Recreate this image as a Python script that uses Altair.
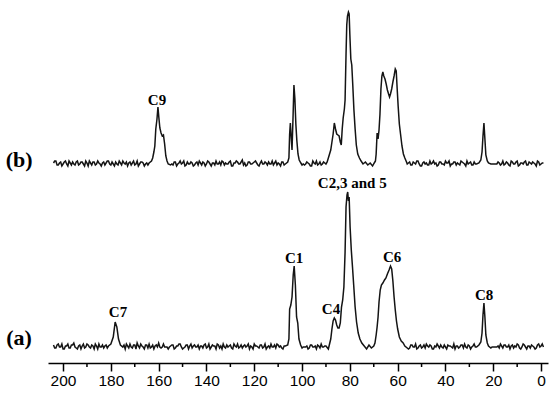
import altair as alt
import pandas as pd

# ---------------- data ----------------
ppm_grid = list(range(204, -2, -1))          # 206 whole-ppm positions
ppm_half = [p - 0.5 for p in range(204, -1, -1)]  # 205 half-ppm positions

noise_a = [2, -1, 3, 0, -2, 1, 3, -1, 2, 0,
           -2, 2, 1, -1, 3, 0, 2, -2, 1, 3,
           0, -1, 2, 1, -2, 0, 1, 2, 0, -1,
           -2, 1, 3, -1, 2, 4, -1, 1, -2, 2,
           3, 0, -2, 2, 4, -1, 3, 0, -2, 1,
           2, -1, 1, 3, -2, 0, 2, 1, -1, 2,
           0, -2, 1, 2, -1, 3, 0, 1, -2, 2,
           1, 3, -1, 0, 2, -2, 1, 3, 0, -1,
           2, 1, -2, 0, 3, 1, -1, 2, 0, -2,
           1, 3, 0, -1, 2, 1, -2, 0, 2, 1,
           0, 0, 0, 0, 0, 0, 1, -1, 2, 0,
           -2, 1, 3, 0, -1, 2, 0, 0, 0, 0,
           0, 0, 0, 0, 0, 0, 0, 0, 0, 0,
           0, 0, 0, 0, 0, 0, 0, 0, 0, 0,
           0, 0, 0, 0, 0, 0, 0, 0, 1, -1,
           2, 0, -2, 1, -1, 2, 3, 0, 1, -2,
           0, 1, 2, -1, 0, 2, 1, -1, -2, 1,
           0, 2, 3, -1, 1, 0, 3, 0, 0, 0,
           0, 0, 0, 0, 0, 0, 1, 3, -1, 2,
           0, -2, 2, 1, 3, -1, 0, 2, -2, 1,
           2, 0, -1, 3, 1, 0]

noise_a_half = [-1, 2, 0, 3, -2, 1, -1, 2, 4, -1,
                1, -2, 3, 0, 2, -1, 1, 3, -2, 0,
                2, 1, -1, 0, 2, 1, 0, -2, 1, 2,
                3, -1, 0, 2, -2, 1, 3, 0, 2, -1,
                -1, 2, 1, 0, 0, 0, 0, 0, 0, 2,
                -2, 1, 3, 0, -1, 2, -2, 3, 1, 0,
                2, 1, -1, 3, 0, -2, 2, 1, 3, -1,
                -2, 0, 2, 1, -1, 3, 0, -1, 2, 1,
                0, 3, 1, -2, 1, 0, 2, -1, 3, 0,
                -1, 0, 2, 3, 0, -1, 1, 2, -1, 0,
                0, 0, 0, 0, 0, 0, -2, 2, 0, 1,
                2, -1, 0, 1, 2, 0, 0, 0, 0, 0,
                0, 0, 0, 0, 0, 0, 0, 0, 0, 0,
                0, 0, 0, 0, 0, 0, 0, 0, 0, 0,
                0, 0, 0, 0, 0, 0, 0, 0, -2, 2,
                0, 3, -1, 2, 0, -1, 1, 2, -2, 1,
                3, -1, 0, 2, -2, 1, 0, 3, 1, -1,
                2, -1, 0, 2, -2, 1, 0, 0, 0, 0,
                0, 0, 0, 0, 0, 0, -1, 1, 2, 0,
                2, 1, -1, 0, 2, -2, 3, 0, 1, -1,
                1, -2, 2, 0, 3]

noise_b = [1, 3, -1, 2, 0, 3, -2, 1, 2, -1,
           3, 0, 2, -2, 1, 3, -1, 2, 0, 1,
           -2, 2, 1, 3, -1, 0, 2, -1, 1, 3,
           0, -2, 2, 1, -1, 3, 0, 2, -2, 1,
           2, 0, 1, -1, 0, 2, 1, 0, -1, 3,
           -1, 2, 0, 3, 1, -2, 2, 0, 1, -1,
           2, 3, -1, 1, 0, 2, -2, 1, 3, 0,
           -1, 2, 1, 0, 3, -2, 1, 2, 0, 4,
           1, -1, 2, 0, 2, 1, -2, 3, 0, 1,
           2, 0, -1, 3, 1, -2, 2, 0, 1, 0,
           0, 0, 0, 0, 1, -1, 2, 0, -2, 1,
           3, 0, -1, 2, 1, 0, 0, 0, 0, 0,
           0, 0, 0, 0, 0, 0, 0, 0, 0, 0,
           0, 0, 0, 0, 0, 0, 0, 0, 0, 0,
           0, 0, 0, 0, 0, 0, 0, 0, 0, 2,
           -1, 1, 3, 0, -2, 2, 1, -1, 0, 3,
           1, -1, 2, 0, 3, 1, -2, 0, 2, 1,
           -1, 2, 0, 3, 1, -1, 2, 0, 0, 0,
           0, 0, 0, 0, 0, 0, 2, -1, 3, 0,
           1, -2, 2, 0, 3, -1, 1, 2, -1, 2,
           0, 1, -2, 2, 0, 1]

noise_b_half = [3, -1, 1, -2, 2, 0, 3, -1, 0, 2,
                -1, 2, 0, 3, -2, 1, 2, -1, 3, 0,
                1, -1, 3, 0, 2, -2, 0, 3, -1, 1,
                2, 1, -1, 3, 0, -2, 2, 1, 0, -1,
                0, 2, -1, 3, 1, 0, 0, 0, 0, 0,
                2, -2, 1, 0, 3, -1, 0, 2, -2, 1,
                -1, 1, 2, -2, 3, 0, 1, -1, 0, 2,
                3, -1, 0, 2, -2, 1, 3, 0, 2, -1,
                -2, 2, 0, 1, 3, -1, 1, 0, 2, -1,
                0, 3, 1, -1, 0, 2, -1, 3, 0, 1,
                0, 0, 0, 0, 0, 0, 1, -2, 3, 0,
                -1, 2, 0, 1, 2, 0, 0, 0, 0, 0,
                0, 0, 0, 0, 0, 0, 0, 0, 0, 0,
                0, 0, 0, 0, 0, 0, 0, 0, 0, 0,
                0, 0, 0, 0, 0, 0, 0, 0, 1, -1,
                2, 0, 3, -2, 1, 0, -1, 3, 1, 0,
                -2, 2, 0, -1, 1, 3, 0, 2, -1, 0,
                3, 1, -2, 0, 2, -1, 0, 0, 0, 0,
                0, 0, 0, 0, 0, 0, 1, 0, -1, 2,
                -1, 3, 0, 2, -2, 1, 0, 3, -1, 1,
                2, 0, 3, -1, 1]

# trace (a) peak regions
a_c7_ppm = [181, 180, 179, 178.2, 177.5, 176.8, 176, 175]
a_c7_int = [1, 3, 10, 25, 20, 8, 2, 0]
a_c1_ppm = [107, 106, 105.5, 105.2, 104.7, 104.2, 103.7, 103.3, 102.8, 102.3, 101.8, 101.3, 100.6, 100]
a_c1_int = [1, 2, 8, 38, 42, 50, 72, 81, 62, 30, 24, 8, 2, -1]
a_mid_ppm = [90, 89, 88.5, 88, 87.5, 87, 86.5, 86, 85.5, 85, 84.5, 84, 83.5, 83, 82.5, 82,
             81.6, 81.2, 80.9, 80.6, 80.3, 79.9, 79.4, 78.9, 78.4, 77.8, 77.2, 76.5, 75.8,
             75, 74, 73, 72, 71, 70, 69.5, 69, 68.6, 68.2, 67.8, 67.3, 66.8, 66.2, 65.5,
             64.9, 64.3, 63.6, 63, 62.5, 62, 61.5, 61, 60.5, 60, 59.3, 58.5, 57.7, 57, 56]
a_mid_int = [1, -2, 3, 8, 18, 26, 29, 27, 22, 19, 19, 24, 40, 47, 60, 95,
             140, 152, 155, 146, 150, 120, 97, 80, 62, 40, 25, 14, 8,
             4, 1, -2, 2, -1, 1, 4, 12, 20, 30, 45, 57, 62, 64, 67,
             69, 73, 77, 81, 78, 66, 50, 37, 26, 18, 10, 6, 4, 1, -1]
a_c8_ppm = [27, 26, 25.2, 24.7, 24.3, 23.9, 23.5, 23.1, 22.5, 22, 21]
a_c8_int = [0, 2, 5, 14, 32, 44, 30, 12, 4, 1, -1]

# trace (b) peak regions
b_c9_ppm = [164, 163, 162.5, 162, 161.6, 161.2, 160.7, 160.3, 159.9, 159.5, 159, 158.5,
            158, 157.5, 157, 156.5, 156, 155]
b_c9_int = [1, 3, 6, 12, 18, 35, 45, 57, 46, 36, 31, 28, 29, 20, 8, 3, 0, -1]
b_c1_ppm = [107, 106, 105.5, 105.2, 104.9, 104.5, 104.2, 103.8, 103.4, 103, 102.6, 102.2,
            101.7, 101.2, 100.5, 100]
b_c1_int = [0, 2, 6, 30, 41, 25, 14, 45, 79, 65, 40, 24, 10, 4, 1, -1]
b_mid_ppm = [90, 89.5, 89, 88.5, 88, 87.5, 87, 86.5, 86, 85.5, 85, 84.5, 84, 83.6, 83.2,
             82.8, 82.3, 82, 81.6, 81.3, 81, 80.6, 80.3, 80, 79.6, 79.2, 78.8, 78.3, 77.8,
             77.3, 76.7, 76, 75.3, 74.5, 73.5, 72.5, 71.5, 70.5, 69.8, 69.3, 69, 68.6,
             68.2, 67.8, 67.4, 67, 66.6, 66.2, 65.8, 65.3, 64.8, 64.3, 63.8, 63.4, 63,
             62.5, 62, 61.5, 61, 60.6, 60.2, 59.8, 59.3, 58.8, 58.2, 57.6, 57, 56.3, 56]
b_mid_int = [0, 2, 6, 10, 14, 22, 30, 41, 35, 30, 29, 28, 22, 19, 35,
             46, 55, 64, 110, 139, 148, 152, 150, 129, 105, 99, 80, 54, 35,
             19, 10, 6, 3, 0, 2, -1, 1, -2, 1, 3, 10, 31,
             25, 34, 50, 75, 88, 92, 88, 85, 80, 74, 70, 67, 70,
             75, 82, 88, 95, 93, 75, 58, 40, 30, 18, 10, 6, 2, 0]
b_c8_ppm = [27, 26, 25.2, 24.7, 24.3, 23.9, 23.5, 23.1, 22.5, 22, 21]
b_c8_int = [0, 1, 4, 12, 28, 41, 25, 9, 3, 1, 0]

# peak annotations (text, ppm, height in plot units)
label_text = ["C9", "C7", "C1", "C4", "C2,3 and 5", "C6", "C8"]
label_ppm = [160.7, 177.0, 103.3, 87.9, 79.0, 62.3, 23.8]
label_h = [263, 51, 105, 54, 180, 106, 68]

trace_names = ["(b)", "(a)"]
trace_name_ppm = [218.4, 218.4]
trace_name_h = [203, 25]

major_ticks = list(range(0, 201, 20))
minor_ticks = list(range(10, 200, 20))

# vertical offsets of the two stacked traces (plot units)
OFFSET = {"(a)": 16, "(b)": 199}


def build(name, noise, noise_half, segments):
    pts = []
    raw = list(zip(ppm_grid, noise)) + list(zip(ppm_half, noise_half))
    for p, v in raw:
        if any(min(sp) <= p <= max(sp) for sp, _ in segments):
            continue
        pts.append((p, v))
    for sp, sv in segments:
        pts.extend(zip(sp, sv))
    pts.sort(key=lambda t: -t[0])
    return pd.DataFrame({"ppm": [p for p, _ in pts],
                         "y": [v + OFFSET[name] for _, v in pts],
                         "trace": name})


df = pd.concat([
    build("(a)", noise_a, noise_a_half,
          [(a_c7_ppm, a_c7_int), (a_c1_ppm, a_c1_int),
           (a_mid_ppm, a_mid_int), (a_c8_ppm, a_c8_int)]),
    build("(b)", noise_b, noise_b_half,
          [(b_c9_ppm, b_c9_int), (b_c1_ppm, b_c1_int),
           (b_mid_ppm, b_mid_int), (b_c8_ppm, b_c8_int)]),
], ignore_index=True)

labels = pd.DataFrame({"text": label_text, "ppm": label_ppm, "y": label_h})
names = pd.DataFrame({"text": trace_names, "ppm": trace_name_ppm, "y": trace_name_h})
minor = pd.DataFrame({"ppm": minor_ticks})

# ---------------- chart ----------------
xscale = alt.Scale(domain=[206.3, -2.9], nice=False, zero=False)
yscale = alt.Scale(domain=[0, 363], nice=False, zero=False)
xaxis = alt.Axis(values=major_ticks, tickSize=8, tickWidth=1.5, tickColor="black",
                 domainColor="black", domainWidth=1.5, labelFont="Liberation Sans",
                 labelFontSize=15.5, labelColor="black", labelPadding=2, grid=False,
                 title=None, labelFlush=False, labelOverlap=False, format="d")


def X():
    return alt.X("ppm:Q", scale=xscale, axis=xaxis)


lines = alt.Chart(df).mark_line(color="#141414", strokeWidth=1.5).encode(
    x=X(),
    y=alt.Y("y:Q", scale=yscale, axis=None),
    detail="trace:N",
    order=alt.Order("ppm:Q", sort="descending"),
)

peak_labels = alt.Chart(labels).mark_text(
    font="Liberation Serif", fontWeight="bold", fontSize=15, color="black",
    align="center", baseline="middle"
).encode(x=X(), y=alt.Y("y:Q", scale=yscale, axis=None), text="text:N")

trace_labels = alt.Chart(names).mark_text(
    font="Liberation Serif", fontWeight="bold", fontSize=22, color="black",
    align="center", baseline="middle"
).encode(x=X(), y=alt.Y("y:Q", scale=yscale, axis=None), text="text:N")

minor_rules = alt.Chart(minor).mark_rule(color="black", strokeWidth=1.5).encode(
    x=X(), y=alt.value(363), y2=alt.value(367)
)

chart = alt.layer(lines, peak_labels, trace_labels, minor_rules).properties(
    width=500, height=363,
    autosize=alt.AutoSizeParams(type="none"),
    padding={"left": 48, "top": 0, "right": 9, "bottom": 36},
    background="white",
).configure_view(stroke=None)

chart.save("out.html", embed_options={"renderer": "svg", "actions": False})
